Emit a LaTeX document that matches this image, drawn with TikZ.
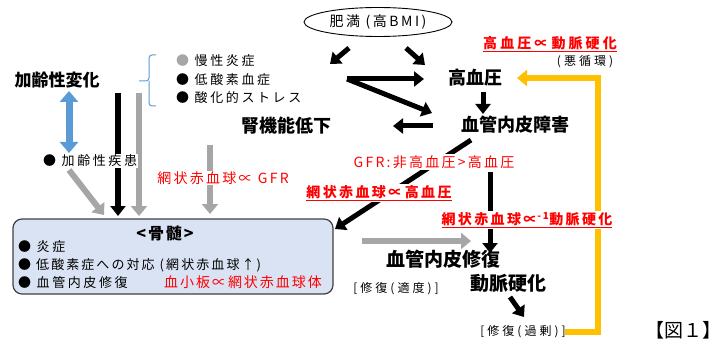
\documentclass[tikz,border=0pt]{standalone}
\usepackage{fontspec}
\setmainfont{Noto Sans CJK JP}
\usetikzlibrary{arrows.meta,shapes.geometric}
\definecolor{gbar}{HTML}{A6A6A6}
\definecolor{bblue}{HTML}{5B9BD5}
\definecolor{obar}{HTML}{FFC000}
\definecolor{boxfill}{HTML}{DAE3F3}
\definecolor{boxline}{HTML}{404040}
\definecolor{red}{HTML}{FF0000}
\newcommand{\lsp}[1]{\addfontfeature{LetterSpace=#1}}
\tikzset{
  blk/.style={line width=5pt,-{Triangle[length=10pt,width=15pt]}},
  gry/.style={draw=gbar,line width=6pt,-{Triangle[length=10pt,width=16pt]}},
  big/.style={font=\fontsize{18}{20}\selectfont\bfseries,inner sep=1pt},
  small/.style={font=\fontsize{13}{15}\selectfont\lsp{20},inner sep=1pt},
  tiny/.style={font=\fontsize{12}{14}\selectfont\lsp{25},inner sep=1pt},
  redlbl/.style={font=\fontsize{14}{16}\selectfont\lsp{16},text=red,fill=white,inner sep=1pt},
  redbold/.style={font=\fontsize{14}{16}\selectfont\bfseries\lsp{17},text=red,fill=white,inner sep=1pt},
}
\begin{document}
\begin{tikzpicture}[x=1pt,y=-1pt]
\useasboundingbox (0,0) rectangle (720,342);
% ---------- anchor coordinates ----------
\coordinate (e1s) at (349,48);  \coordinate (e1e) at (330,64);
\coordinate (e2s) at (406,48);  \coordinate (e2e) at (425,65);
\coordinate (vs)  at (347,79);  \coordinate (ve1) at (424,79);
\coordinate (ve2) at (432,113);
\coordinate (hd1) at (483,92);  \coordinate (hd2) at (483,114);
\coordinate (ls)  at (433,126); \coordinate (le)  at (393,126);
\coordinate (ds)  at (471,140); \coordinate (de)  at (335,229);
\coordinate (vv1) at (490,172); \coordinate (vv2) at (490,253);
\coordinate (kb1) at (118,93);  \coordinate (kb2) at (118,216);
\coordinate (kg1) at (139,93);  \coordinate (kg2) at (139,216);
\coordinate (gd1) at (69,170);  \coordinate (gd2) at (104,215);
\coordinate (gv1) at (210,145); \coordinate (gv2) at (210,214);
\coordinate (gh1) at (362,241); \coordinate (gh2) at (471,241);
\coordinate (ba1) at (69,91);   \coordinate (ba2) at (69,153);
\coordinate (sa1) at (510,297); \coordinate (sa2) at (524,317);
\coordinate (o1) at (565,332);  \coordinate (o2) at (598,332);
\coordinate (o3) at (598,78);   \coordinate (o4) at (517,78);

% ---------- box ----------
\node[draw=boxline,line width=1.2pt,fill=boxfill,rounded corners=9pt,
      minimum width=320pt,minimum height=75pt,inner sep=0pt] (bm) at (173,256.5) {};

% ---------- ellipse ----------
\node[draw,ellipse,line width=0.9pt,minimum width=148pt,minimum height=29pt,inner sep=0pt,
      font=\fontsize{14}{16}\selectfont\lsp{18}] (obese) at (378,22) {肥満 (高BMI)};

% ---------- arrows ----------
\draw[blk] (e1s) -- (e1e);
\draw[blk] (e2s) -- (e2e);
\draw[blk] (vs) -- (ve1);
\draw[blk] (vs) -- (ve2);
\draw[blk] (hd1) -- (hd2);
\draw[blk] (ls) -- (le);
\draw[blk] (ds) -- (de);
\draw[blk] (vv1) -- (vv2);
\draw[gry] (gd1) -- (gd2);
\draw[blk,line width=6pt] (kb1) -- (kb2);
\draw[gry] (kg1) -- (kg2);
\draw[gry] (gv1) -- (gv2);
\draw[gry] (gh1) -- (gh2);
\draw[draw=bblue,line width=7pt,{Triangle[length=11pt,width=18pt]}-{Triangle[length=11pt,width=18pt]}] (ba1) -- (ba2);
\draw[blk] (sa1) -- (sa2);
\draw[draw=obar,line width=6pt,-{Triangle[length=10pt,width=16pt]}] (o1) -- (o2) -- (o3) -- (o4);

% ---------- bracket ----------
\draw[bblue,line width=1pt,rounded corners=3pt] (156,55) -- (149,55) -- (149,81) -- (139,81);
\draw[bblue,line width=1pt,rounded corners=3pt] (156,106) -- (149,106) -- (149,81);

% ---------- texts ----------
\node[big,font=\fontsize{17}{19}\selectfont\bfseries] (aging) at (57,80) {加齢性変化};
\node[small,anchor=west] (b1) at (175,61) {{\color{gbar}●}\ 慢性炎症};
\node[small,anchor=west] (b2) at (175,80) {●\ 低酸素血症};
\node[small,anchor=west] (b3) at (175,98) {●\ 酸化的ストレス};
\node[big] (kidney) at (286,126) {腎機能低下};
\node[big] (hbp) at (475,78) {高血圧};
\node[big] (endo) at (515,125) {血管内皮障害};
\node[font=\fontsize{14}{16}\selectfont\bfseries\lsp{22},text=red,inner sep=1pt] (vic) at (550,44) {\underline{高血圧∝動脈硬化}};
\node[tiny] (vicious) at (585,62) {(悪循環)};
\node[small,anchor=west,fill=white] (disease) at (42,161) {●\ 加齢性疾患};
\node[redlbl] (rgfr) at (223,178) {網状赤血球∝ GFR};
\node[redlbl] (gfr) at (434,162) {GFR:非高血圧>高血圧};
\node[redbold] (rhbp) at (379,193) {\underline{網状赤血球∝高血圧}};
\node[redbold] (rart) at (527,220) {\underline{網状赤血球∝\textsuperscript{-1}動脈硬化}};
\node[big,font=\fontsize{19}{21}\selectfont\bfseries] (repair) at (443,259) {血管内皮修復};
\node[tiny] (mod) at (396,289) {[修復(適度)]};
\node[big,font=\fontsize{19}{21}\selectfont\bfseries] (athero) at (508,283) {動脈硬化};
\node[tiny] (exc) at (523,332) {[修復(過剰)]};
\node[font=\fontsize{19}{21}\selectfont,inner sep=1pt] (fig) at (683,330) {【図１】};

% box contents
\node[font=\fontsize{16}{18}\selectfont\bfseries\lsp{12},inner sep=1pt] (bmt) at (165,233) {<骨髄>};
\node[small,anchor=west] (i1) at (17,247) {●\ 炎症};
\node[small,anchor=west,font=\fontsize{13}{15}\selectfont\lsp{16}] (i2) at (17,265) {●\ 低酸素症への対応 (網状赤血球↑)};
\node[small,anchor=west] (i3) at (17,283) {●\ 血管内皮修復};
\node[font=\fontsize{14}{16}\selectfont\lsp{14},text=red,inner sep=1pt] (plt) at (243,282) {血小板∝網状赤血球体};
\end{tikzpicture}
\end{document}
